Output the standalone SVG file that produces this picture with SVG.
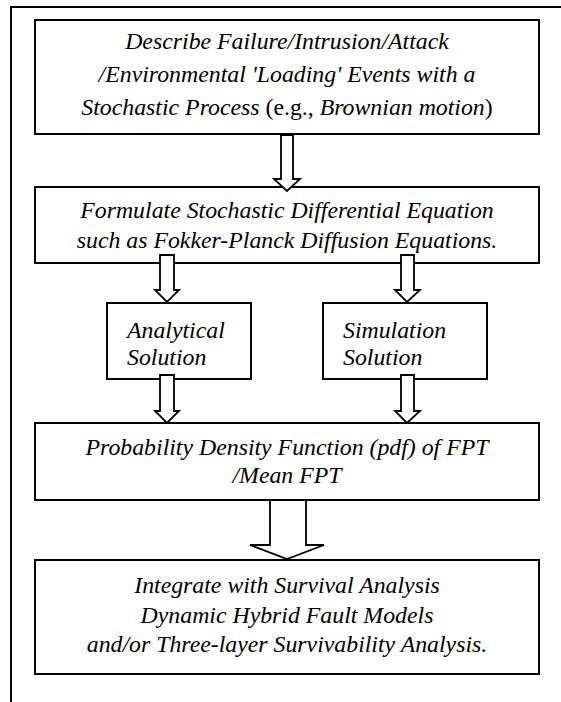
<svg xmlns="http://www.w3.org/2000/svg" width="561" height="702" viewBox="0 0 561 702">
<style>
.box{fill:#fff;stroke:#000;stroke-width:2}
.arr{fill:#fff;stroke:#000;stroke-width:1.8;stroke-linejoin:miter}
text{font-family:'Liberation Serif','Times New Roman','DejaVu Serif',serif;font-style:italic;font-size:23.8px;fill:#000}
.c{text-anchor:middle}
.n{font-style:normal}
</style>
<rect width="561" height="702" fill="#fff"/>
<g id="frame">
<path d="M11,702 V7 H561" fill="none" stroke="#000" stroke-width="2"/>
</g>
<g id="n1">
<rect class="box" x="35" y="20" width="504" height="114"/>
<text class="c" x="287" y="49">Describe Failure/Intrusion/Attack</text>
<text class="c" x="287" y="82">/Environmental 'Loading' Events with a</text>
<text class="c" x="287" y="115">Stochastic Process <tspan class="n">(e.g., </tspan>Brownian motion<tspan class="n">)</tspan></text>
</g>
<g id="n2">
<rect class="box" x="35" y="187" width="504" height="76"/>
<text class="c" x="287" y="218">Formulate Stochastic Differential Equation</text>
<text class="c" x="287" y="248">such as Fokker-Planck Diffusion Equations.</text>
</g>
<g id="n3">
<rect class="box" x="107" y="303" width="144" height="76"/>
<text x="127" y="338">Analytical</text>
<text x="127" y="365">Solution</text>
</g>
<g id="n4">
<rect class="box" x="323" y="303" width="164" height="76"/>
<text x="343" y="338">Simulation</text>
<text x="343" y="365">Solution</text>
</g>
<g id="n5">
<rect class="box" x="35" y="423" width="504" height="77"/>
<text class="c" x="287" y="455">Probability Density Function (pdf) of FPT</text>
<text class="c" x="287" y="483">/Mean FPT</text>
</g>
<g id="n6">
<rect class="box" x="35" y="560" width="504" height="114"/>
<text class="c" x="287" y="593">Integrate with Survival Analysis</text>
<text class="c" x="287" y="623">Dynamic Hybrid Fault Models</text>
<text class="c" x="287" y="652">and/or Three-layer Survivability Analysis.</text>
</g>
<g id="connectors">
<polygon class="arr" points="281,135 293,135 293,179 300,179 287,191 274,179 281,179"/>
<polygon class="arr" points="160,255 174,255 174,290 179,290 167,302 155,290 160,290"/>
<polygon class="arr" points="401,255 414,255 414,290 420,290 407,302 395,290 401,290"/>
<polygon class="arr" points="160,375 174,375 174,411 179,411 167,423 155,411 160,411"/>
<polygon class="arr" points="401,375 414,375 414,411 420,411 407,423 395,411 401,411"/>
<polygon class="arr" points="270,500 306,500 306,545 324,545 287,559 250,545 270,545"/>
</g>
</svg>
